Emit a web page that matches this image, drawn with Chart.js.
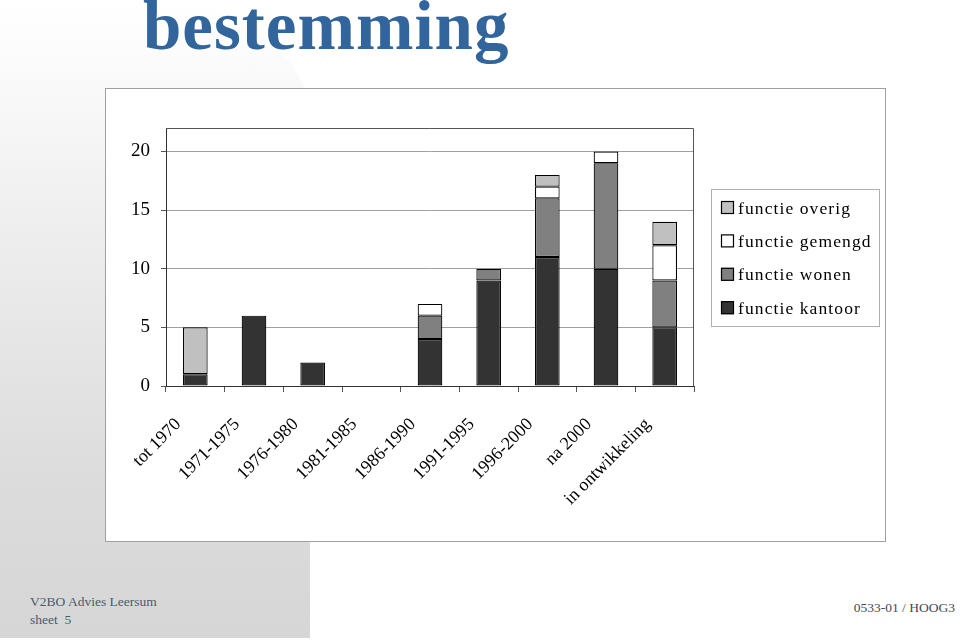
<!DOCTYPE html>
<html>
<head>
<meta charset="utf-8">
<script src="https://cdn.jsdelivr.net/npm/chart.js@4/dist/chart.umd.min.js"></script>
<style>
  html, body { margin:0; padding:0; background:#fff; }
  body { width:960px; height:640px; position:relative; overflow:hidden; font-family:"Liberation Serif", serif; }
  #deco { position:absolute; left:0; top:0; width:310px; height:638px;
          background:linear-gradient(to bottom, #ffffff 0%, #fafafa 12%, #ececec 40%, #dcdcdc 75%, #d6d6d6 100%);
          border-top-right-radius:160px 120px; }
  #title { position:absolute; left:143px; top:-13px; font-family:"Liberation Serif", serif; font-weight:bold;
           font-size:69px; color:#31659c; letter-spacing:1px; white-space:nowrap; }
  #box { position:absolute; left:105px; top:88px; width:779px; height:452px; background:#fff; border:1px solid #a0a0a0; }
  #box canvas { position:absolute; left:0; top:0; }
  .foot { position:absolute; font-family:"Liberation Serif", serif; font-size:13.5px; color:#4b5a6b; white-space:nowrap; }
</style>
</head>
<body>
<div id="deco"></div>
<div id="title">bestemming</div>
<div id="box"><canvas id="c" width="779" height="452"></canvas></div>
<div class="foot" style="left:30px; top:594px;">V2BO Advies Leersum</div>
<div class="foot" style="left:30px; top:612px;">sheet&nbsp; 5</div>
<div class="foot" style="right:5px; top:600px; color:#3f4a58;">0533-01 / HOOG3</div>
<script>
const categories = ['tot 1970','1971-1975','1976-1980','1981-1985','1986-1990','1991-1995','1996-2000','na 2000','in ontwikkeling'];
const kantoor = [1, 6, 2, 0, 4, 9, 11, 10, 5];
const wonen   = [0, 0, 0, 0, 2, 1, 5, 9, 4];
const gemengd = [0, 0, 0, 0, 1, 0, 1, 1, 3];
const overig  = [4, 0, 0, 0, 0, 0, 1, 0, 2];
const yTicks  = [0, 5, 10, 15, 20];
const seriesNames = ['functie kantoor', 'functie wonen', 'functie gemengd', 'functie overig'];

const FONT = '"Liberation Serif", serif';

const frame = {
  id: 'frame',
  beforeDatasetsDraw(chart) {
    const {ctx, chartArea: a} = chart;
    ctx.save();
    ctx.strokeStyle = '#555';
    ctx.lineWidth = 1;
    ctx.beginPath();
    ctx.moveTo(a.left, a.top + 0.5);
    ctx.lineTo(a.right - 0.5, a.top + 0.5);
    ctx.lineTo(a.right - 0.5, a.bottom);
    ctx.stroke();
    ctx.restore();
  }
};

const boxLegend = {
  id: 'boxLegend',
  afterDraw(chart) {
    const {ctx, chartArea: a} = chart;
    const x0 = a.right + 17, y0 = a.top + 61, w = 168, h = 137;
    ctx.save();
    ctx.fillStyle = '#fff';
    ctx.fillRect(x0, y0, w, h);
    ctx.strokeStyle = '#b0b0b0';
    ctx.lineWidth = 1;
    ctx.strokeRect(x0 + 0.5, y0 + 0.5, w, h);
    const ds = chart.data.datasets.slice().reverse();
    ctx.font = '17.5px ' + FONT;
    ctx.textBaseline = 'middle';
    ctx.fillStyle = '#000';
    try { ctx.letterSpacing = '1.1px'; } catch (e) {}
    ds.forEach((d, i) => {
      const cy = y0 + 19 + i * 33.4;
      ctx.fillStyle = d.backgroundColor;
      ctx.fillRect(x0 + 10, cy - 7, 13, 13);
      ctx.strokeStyle = '#000';
      ctx.lineWidth = 1.2;
      ctx.strokeRect(x0 + 10.5, cy - 6.5, 12, 12);
      ctx.fillStyle = '#000';
      ctx.fillText(d.label, x0 + 27, cy + 1);
    });
    ctx.restore();
  }
};

const colors = ['#333333', '#808080', '#ffffff', '#c0c0c0'];
const values = [kantoor, wonen, gemengd, overig];

new Chart(document.getElementById('c'), {
  type: 'bar',
  data: {
    labels: categories,
    datasets: values.map((v, i) => ({
      label: seriesNames[i],
      data: v,
      backgroundColor: colors[i],
      borderColor: '#000',
      borderWidth: 1.2,
      borderSkipped: false,
      inflateAmount: 0,
      categoryPercentage: 1.0,
      barPercentage: 0.42
    }))
  },
  options: {
    responsive: false,
    animation: false,
    devicePixelRatio: 1,
    layout: { padding: { top: 39, right: 191, left: 0, bottom: 0 } },
    plugins: { legend: { display: false }, tooltip: { enabled: false } },
    scales: {
      x: {
        stacked: true,
        afterFit(s) { s.height = 155; },
        grid: { drawOnChartArea: false, drawTicks: true, tickLength: 6, tickColor: '#555', offset: true },
        border: { display: true, color: '#333', width: 1 },
        ticks: {
          autoSkip: false, maxRotation: 45, minRotation: 45,
          font: { family: FONT, size: 18 }, color: '#000',
          padding: 22, labelOffset: -17
        }
      },
      y: {
        stacked: true,
        min: 0, max: 22,
        afterFit(s) { s.width = 60; },
        afterBuildTicks(s) { s.ticks = yTicks.map(v => ({ value: v })); },
        grid: { color: '#a0a0a0', lineWidth: 1, tickLength: 5, tickColor: '#555' },
        border: { display: true, color: '#333', width: 1 },
        ticks: { font: { family: FONT, size: 19 }, color: '#000', padding: 11 }
      }
    }
  },
  plugins: [frame, boxLegend]
});
</script>
</body>
</html>
